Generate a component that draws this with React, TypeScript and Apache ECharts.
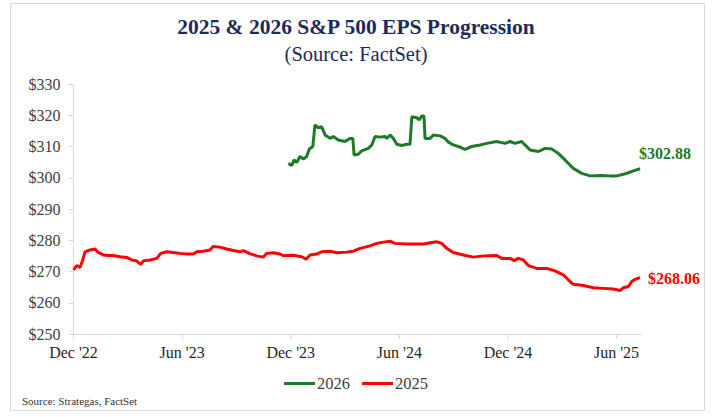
import React, { useEffect, useRef } from "react";
import * as echarts from "echarts";

// x = months since Dec 1, 2022, y = EPS estimate ($)
const eps2025: [number, number][] = [
  [0.0, 270.5], [0.18, 271.9], [0.36, 271.3], [0.51, 273.7], [0.64, 276.3], [0.91, 276.9],
  [1.19, 277.2], [1.37, 276.1], [1.65, 275.3], [1.92, 275.1], [2.2, 275.1], [2.57, 274.7],
  [2.94, 274.5], [3.22, 273.7], [3.49, 273.4], [3.71, 272.3], [3.86, 273.4], [4.23, 273.7],
  [4.6, 274.2], [4.82, 275.8], [5.15, 276.3], [5.51, 276.1], [5.88, 275.8], [6.25, 275.6],
  [6.62, 275.6], [6.81, 276.3], [7.17, 276.5], [7.54, 276.9], [7.72, 278.0], [8.09, 277.8],
  [8.46, 277.2], [8.83, 276.7], [9.2, 276.3], [9.38, 276.7], [9.75, 275.7], [10.12, 275.0],
  [10.49, 274.6], [10.67, 275.8], [11.04, 276.0], [11.41, 275.6], [11.59, 275.1], [12.14, 275.2],
  [12.61, 274.7], [12.85, 273.9], [13.07, 275.3], [13.44, 275.6], [13.71, 276.3], [14.17, 276.5],
  [14.54, 276.0], [15.09, 276.2], [15.46, 276.5], [15.83, 277.4], [16.38, 278.2], [16.75, 279.0],
  [17.12, 279.4], [17.49, 279.7], [17.76, 279.0], [18.41, 278.8], [18.96, 278.8], [19.33, 278.8],
  [19.79, 279.3], [20.07, 279.5], [20.34, 279.0], [20.62, 277.4], [20.98, 276.1], [21.54, 275.3],
  [22.09, 274.6], [22.64, 275.0], [23.38, 275.1], [23.66, 274.2], [24.12, 274.2], [24.34, 273.5],
  [24.57, 274.2], [24.85, 273.7], [25.13, 271.9], [25.59, 271.0], [26.14, 271.0], [26.6, 270.2],
  [27.06, 268.9], [27.43, 266.8], [27.61, 265.9], [28.17, 265.5], [28.72, 264.8], [29.27, 264.6],
  [29.82, 264.4], [30.19, 263.9], [30.38, 264.8], [30.65, 265.2], [30.84, 266.8], [31.02, 267.5],
  [31.3, 268.06],
];

const eps2026: [number, number][] = [
  [11.87, 304.6], [12.06, 303.9], [12.18, 305.7], [12.33, 304.9], [12.51, 306.8], [12.7, 306.0],
  [12.88, 306.8], [13.03, 309.2], [13.22, 310.0], [13.34, 316.9], [13.52, 316.0], [13.71, 316.3],
  [13.9, 313.7], [14.17, 312.6], [14.35, 313.2], [14.63, 312.1], [15.0, 311.6], [15.28, 312.6],
  [15.43, 312.6], [15.5, 307.3], [15.73, 307.5], [15.92, 308.6], [16.29, 309.4], [16.48, 310.5],
  [16.66, 313.2], [16.93, 313.0], [17.21, 313.2], [17.3, 312.6], [17.49, 313.7], [17.67, 312.6],
  [17.86, 310.7], [18.13, 310.3], [18.41, 310.7], [18.59, 310.7], [18.69, 319.5], [18.96, 319.2],
  [19.1, 318.5], [19.24, 319.8], [19.36, 319.8], [19.42, 312.6], [19.7, 312.6], [19.88, 313.7],
  [20.25, 313.4], [20.52, 312.6], [20.71, 311.4], [20.98, 310.5], [21.26, 310.0], [21.63, 309.1],
  [22.0, 310.0], [22.46, 310.5], [22.83, 311.0], [23.38, 311.6], [23.84, 311.0], [24.12, 311.6],
  [24.39, 311.0], [24.76, 311.6], [24.94, 310.5], [25.22, 308.9], [25.68, 308.4], [26.05, 309.4],
  [26.42, 309.2], [26.78, 307.8], [27.15, 305.7], [27.61, 303.0], [28.08, 301.4], [28.54, 300.6],
  [29.09, 300.7], [29.64, 300.6], [30.01, 300.6], [30.38, 301.1], [30.65, 301.6], [30.93, 302.2],
  [31.3, 302.88],
];

// tick labels every 6 months from Dec '22
const xTickLabels = ["Dec '22", "Jun '23", "Dec '23", "Jun '24", "Dec '24", "Jun '25"];

const FONT = "'Palatino Linotype', 'Book Antiqua', Palatino, 'Liberation Serif', serif";
const GREEN = "#1f7a26";
const RED = "#ff0000";
const NAVY = "#1c2b5e";

export default function App() {
  const ref = useRef<HTMLDivElement>(null);
  useEffect(() => {
    document.body.style.margin = "0";
    if (!ref.current) return;
    const chart = echarts.init(ref.current, null, { renderer: "svg" });
    const last = (a: [number, number][]) => a[a.length - 1][1];
    chart.setOption({
      animation: false,
      textStyle: { fontFamily: FONT },
      title: [
        {
          text: "2025 & 2026 S&P 500 EPS Progression",
          left: "center",
          top: 11,
          textStyle: { fontFamily: FONT, fontSize: 21.5, fontWeight: "bold", color: NAVY },
        },
        {
          text: "(Source: FactSet)",
          left: "center",
          top: 38,
          textStyle: { fontFamily: FONT, fontSize: 20.5, fontWeight: "normal", color: NAVY },
        },
      ],
      graphic: [
        {
          type: "rect",
          shape: { x: 10.5, y: 3.5, width: 694, height: 407 },
          style: { fill: "none", stroke: "#d9d9d9", lineWidth: 1 },
          silent: true,
        },
        {
          type: "text",
          left: 22,
          top: 395,
          style: { text: "Source: Strategas, FactSet", fontFamily: FONT, fontSize: 11, fill: "#333" },
        },
      ],
      legend: {
        data: ["2026", "2025"],
        bottom: 20,
        left: "center",
        icon: "rect",
        itemWidth: 31,
        itemHeight: 3,
        itemGap: 12,
        textStyle: { fontFamily: FONT, fontSize: 16.5, color: "#404040", padding: [0, 0, 0, -3] },
      },
      grid: { left: 73.5, right: 71, top: 84, bottom: 83 },
      xAxis: {
        type: "value",
        min: 0,
        max: 31.35,
        interval: 6,
        axisLine: { show: true, lineStyle: { color: "#d9d9d9" } },
        axisTick: { show: true, length: 5, lineStyle: { color: "#d9d9d9" } },
        splitLine: { show: false },
        axisLabel: {
          fontFamily: FONT,
          fontSize: 16,
          color: "#262626",
          margin: 10,
          showMaxLabel: false,
          formatter: (v: number) => {
            const i = Math.round(v / 6);
            return Math.abs(v - i * 6) < 1e-6 ? xTickLabels[i] ?? "" : "";
          },
        },
      },
      yAxis: {
        type: "value",
        min: 250,
        max: 330,
        interval: 10,
        axisLine: { show: true, lineStyle: { color: "#d9d9d9" } },
        axisTick: { show: true, length: 5, lineStyle: { color: "#d9d9d9" } },
        splitLine: { show: false },
        axisLabel: {
          fontFamily: FONT,
          fontSize: 16,
          color: "#404040",
          margin: 13,
          formatter: (v: number) => "$" + v,
        },
      },
      series: [
        {
          name: "2026",
          type: "line",
          data: eps2026,
          symbol: "none",
          color: GREEN,
          lineStyle: { width: 3, color: GREEN },
          endLabel: {
            show: true,
            formatter: () => "$" + last(eps2026).toFixed(2),
            color: GREEN,
            fontFamily: FONT,
            fontSize: 16,
            fontWeight: "bold",
            offset: [-9, -15],
          },
        },
        {
          name: "2025",
          type: "line",
          data: eps2025,
          symbol: "none",
          color: RED,
          lineStyle: { width: 3, color: RED },
          endLabel: {
            show: true,
            formatter: () => "$" + last(eps2025).toFixed(2),
            color: RED,
            fontFamily: FONT,
            fontSize: 16,
            fontWeight: "bold",
            offset: [0, 1],
          },
        },
      ],
    });
    return () => chart.dispose();
  }, []);
  return <div ref={ref} style={{ width: 712, height: 417 }} />;
}
